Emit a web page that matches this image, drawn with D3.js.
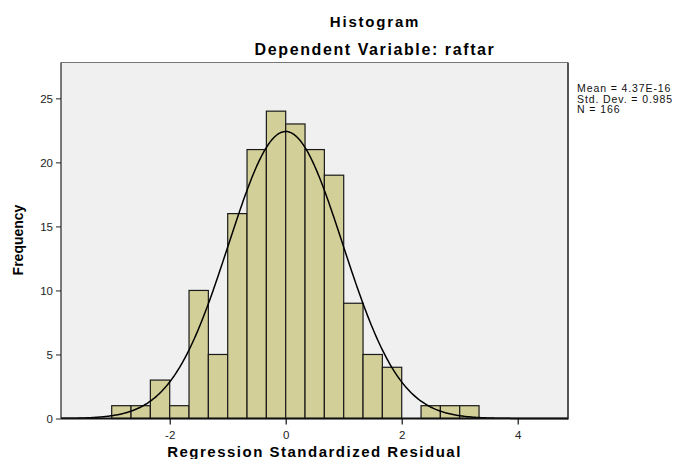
<!DOCTYPE html>
<html><head><meta charset="utf-8">
<script src="https://cdnjs.cloudflare.com/ajax/libs/d3/7.8.5/d3.min.js"></script>
<style>body{margin:0;background:#fff;} svg{display:block;font-family:"Liberation Sans",Arial,sans-serif;}</style>
</head><body>
<script>
// Data
const binStarts = [-3.0, -2.6667, -2.3333, -2.0, -1.6667, -1.3333, -1.0, -0.6667, -0.3333, 0.0, 0.3333, 0.6667, 1.0, 1.3333, 1.6667, 2.0, 2.3333, 2.6667, 3.0];
const counts    = [1, 1, 3, 1, 10, 5, 16, 21, 24, 23, 21, 19, 9, 5, 4, 0, 1, 1, 1];
const binWidth = 1/3;
const xTicks = [-2, 0, 2, 4];
const yTicks = [0, 5, 10, 15, 20, 25];
const stats = {mean: 4.37e-16, sd: 0.985, n: 166};
const statLines = ["Mean = 4.37E-16", "Std. Dev. = 0.985", "N = 166"];
const titleLines = ["Histogram", "Dependent Variable: raftar"];
const xLabel = "Regression Standardized Residual";
const yLabel = "Frequency";

const W = 678, H = 459;
const plot = {left: 61, right: 568, top: 62.5, bottom: 418.5};

const svg = d3.select("body").append("svg").attr("width", W).attr("height", H);

const x = d3.scaleLinear().domain([-3.874, 4.867]).range([plot.left, plot.right]);
const y = d3.scaleLinear().domain([0, 27.8]).range([plot.bottom, plot.top]);

// plot background
svg.append("rect").attr("x", plot.left).attr("y", plot.top)
  .attr("width", plot.right - plot.left).attr("height", plot.bottom - plot.top)
  .attr("fill", "#f0f0f0");

// bars
svg.append("g").selectAll("rect").data(binStarts.map((s, i) => ({s, c: counts[i]})).filter(d => d.c > 0))
  .join("rect")
  .attr("x", d => x(d.s))
  .attr("y", d => y(d.c))
  .attr("width", d => x(d.s + binWidth) - x(d.s))
  .attr("height", d => y(0) - y(d.c))
  .attr("fill", "#d3cf98")
  .attr("stroke", "#1a1a1a")
  .attr("stroke-width", 1.2);

// normal curve
const pdf = v => Math.exp(-0.5 * Math.pow((v - stats.mean) / stats.sd, 2)) / (stats.sd * Math.sqrt(2 * Math.PI));
const xs = d3.range(x.domain()[0], x.domain()[1], 0.02);
svg.append("path")
  .datum(xs)
  .attr("fill", "none").attr("stroke", "#000").attr("stroke-width", 1.5)
  .attr("d", d3.line().x(v => x(v)).y(v => y(stats.n * binWidth * pdf(v))));

// frame
svg.append("line").attr("x1", plot.left).attr("x2", plot.right).attr("y1", plot.top).attr("y2", plot.top).attr("stroke", "#777").attr("stroke-width", 1);
svg.append("line").attr("x1", plot.right).attr("x2", plot.right).attr("y1", plot.top).attr("y2", plot.bottom + 1).attr("stroke", "#555").attr("stroke-width", 2);

// axes
const fmt = d => String(d);
const xAxis = svg.append("g").attr("transform", `translate(0,${plot.bottom})`)
  .call(d3.axisBottom(x).tickValues(xTicks).tickSize(6).tickPadding(6).tickFormat(fmt));
xAxis.select(".domain").attr("stroke", "#111").attr("stroke-width", 2).attr("d", `M${plot.left},0H${plot.right}`);
xAxis.selectAll(".tick line").attr("stroke", "#111").attr("stroke-width", 1.2);
xAxis.selectAll("text").attr("font-size", 11.5).attr("fill", "#222").attr("font-family", "Liberation Sans, Arial, sans-serif");

const yAxis = svg.append("g").attr("transform", `translate(${plot.left},0)`)
  .call(d3.axisLeft(y).tickValues(yTicks).tickSize(5).tickPadding(3).tickFormat(fmt));
yAxis.select(".domain").attr("stroke", "#222").attr("stroke-width", 1.2).attr("d", `M0,${plot.bottom}V${plot.top}`);
yAxis.selectAll(".tick line").attr("stroke", "#222");
yAxis.selectAll("text").attr("font-size", 11.5).attr("fill", "#222").attr("font-family", "Liberation Sans, Arial, sans-serif");

// titles
svg.append("text").attr("x", 375).attr("y", 27).attr("text-anchor", "middle")
  .attr("font-size", 15).attr("font-weight", "bold").attr("letter-spacing", 1.8).text(titleLines[0]);
svg.append("text").attr("x", 375).attr("y", 55).attr("text-anchor", "middle")
  .attr("font-size", 16).attr("font-weight", "bold").attr("letter-spacing", 1.6).text(titleLines[1]);

// axis labels
svg.append("text").attr("x", (plot.left + plot.right) / 2).attr("y", 457).attr("text-anchor", "middle")
  .attr("font-size", 15).attr("font-weight", "bold").attr("letter-spacing", 1.5).text(xLabel);
svg.append("text").attr("transform", `translate(23,240) rotate(-90)`).attr("text-anchor", "middle")
  .attr("font-size", 14).attr("font-weight", "bold").text(yLabel);

// stats legend
svg.append("g").selectAll("text").data(statLines).join("text")
  .attr("x", 577).attr("y", (d, i) => 92 + i * 10.5)
  .attr("font-size", 10.5).attr("letter-spacing", 0.9).attr("fill", "#111").text(d => d);
</script>
</body></html>
